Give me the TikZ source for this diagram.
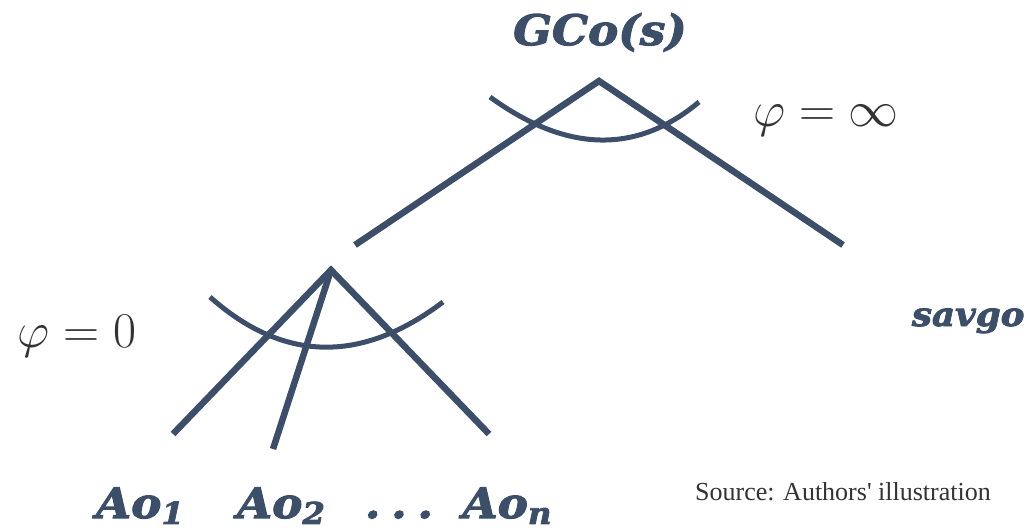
\RequirePackage{fix-cm}
\documentclass[tikz,border=0pt]{standalone}
\usepackage{amsmath}
\usepackage{fontspec}
\usepackage{tikz}
\usetikzlibrary{positioning,calc}
\newfontfamily\goalfont{DejaVu Serif}[BoldItalicFeatures={FakeBold=2.5,FakeStretch=1.08}]
\newfontfamily\notefont{Liberation Serif}
\definecolor{slate}{RGB}{61,79,104}
\newcommand{\idx}[1]{\smash{\raisebox{-0.14em}{\fontsize{30}{30}\selectfont #1}}}

\begin{document}
\begin{tikzpicture}[x=1pt, y=-1pt,
  branch/.style={slate, line width=6.5pt},
  andarc/.style={slate, line width=5pt},
  goal/.style={slate, anchor=base, font=\goalfont\bfseries\itshape\fontsize{42}{48}\selectfont},
  leaf/.style={slate, anchor=base, font=\goalfont\bfseries\itshape\fontsize{42}{50}\selectfont},
  cost/.style={black!80, font=\fontsize{50}{58}\selectfont}]
  \useasboundingbox (0,0) rectangle (1033,530);
  % root goal and its two branches
  \node[goal] (gco) at (600,45) {GCo(s)};
  \coordinate (top) at (599,81);
  \coordinate (lend) at (355,245);
  \coordinate (rend) at (843,245);
  \draw[branch] (lend) -- (top) -- (rend);
  \draw[andarc] (490,97) .. controls (567,153) and (637,154) .. (699,102);
  \node[cost] (inf) at (826,121) {$\varphi = \infty$};
  \node[goal, anchor=base east, font=\goalfont\bfseries\itshape\fontsize{33}{38}\selectfont] (savgo) at (1028,326) {savgo};
  % sub goal with n children
  \coordinate (sub) at (331,270);
  \coordinate (c1) at (173,434);
  \coordinate (c2) at (273,449);
  \coordinate (cn) at (489,434);
  \draw[branch] (c1) -- (sub) -- (cn);
  \draw[branch] (sub) -- (c2);
  \draw[andarc] (210,297) .. controls (283,362) and (361,364) .. (443,302);
  \node[cost] (zero) at (77,336) {$\varphi = 0$};
  \node[leaf] (a1) at (140,518) {Ao\idx{1}};
  \node[leaf] (a2) at (281,518) {Ao\idx{2}};
  \node[leaf] (dots) at (399,518) {.\hspace{0.25em}.\hspace{0.25em}.};
  \node[leaf] (an) at (507,518) {Ao\idx{n}};
  \node[black!80, anchor=base, font=\notefont\fontsize{26}{30}\selectfont] (src) at (843,500) {Source: Authors' illustration};
\end{tikzpicture}
\end{document}
